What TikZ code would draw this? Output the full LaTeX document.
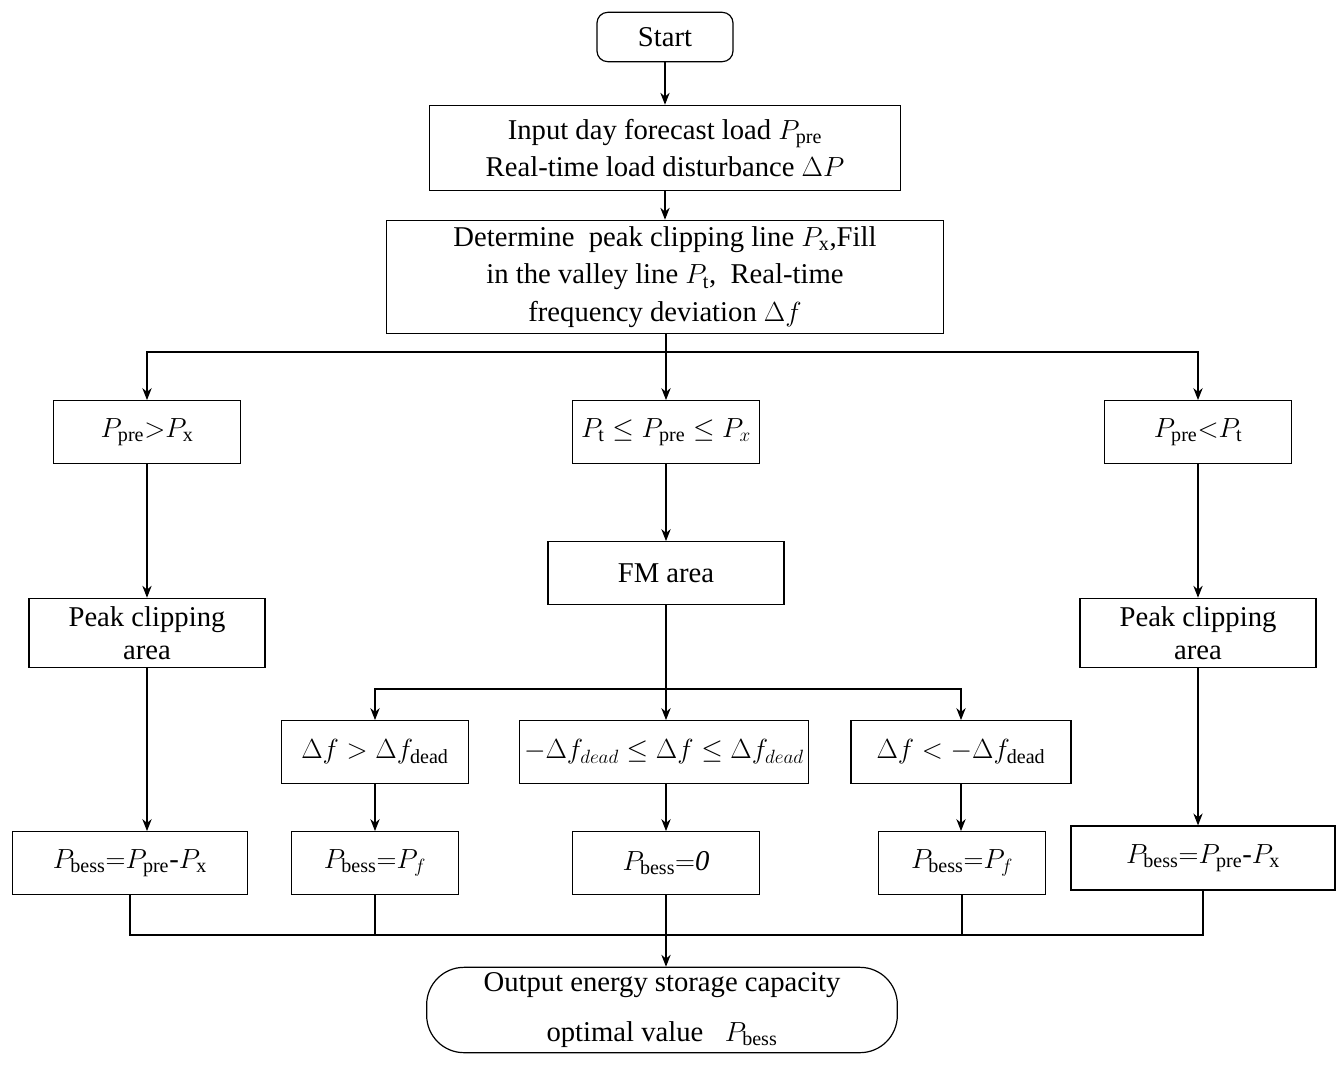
\documentclass[tikz,border=0pt]{standalone}
\usepackage{amsmath,amssymb}
\usepackage{fontspec}
\setmainfont{Liberation Serif}
\usetikzlibrary{arrows.meta}
\begin{document}
\begin{tikzpicture}[x=0.75pt,y=-0.75pt,
  box/.style={draw,line width=0.9pt,minimum width=#1,align=center,inner sep=2pt,font=\fontsize{21.5}{28}\selectfont},
  box/.default=140pt,
  arr/.style={-{Stealth[length=9pt,width=7pt]},line width=0.9pt},
  ln/.style={line width=0.9pt}]
\useasboundingbox (0,0) rectangle (1338,1067);
\node[box=102pt,minimum height=37pt,rounded corners=8pt] (start) at (665,37) {Start};
\node[box=353pt,minimum height=64pt] (input) at (665,148) {Input day forecast load $P_{\mathrm{pre}}$\\Real-time load disturbance $\Delta P$};
\node[box=418pt,minimum height=85pt,font=\fontsize{21.5}{28}\selectfont] (det) at (665,277) {Determine\ \ peak clipping line $P_{\mathrm{x}}$,Fill\\in the valley line $P_{\mathrm{t}}$,\ \ Real-time\\frequency deviation $\Delta f$};
\node[box=140pt,minimum height=47pt] (c1) at (147,432) {$P_{\mathrm{pre}}{>}P_{\mathrm{x}}$};
\node[box=140pt,minimum height=47pt] (c2) at (666,432) {$P_{\mathrm{t}}\leq P_{\mathrm{pre}}\leq P_{x}$};
\node[box=140pt,minimum height=47pt] (c3) at (1198,432) {$P_{\mathrm{pre}}{<}P_{\mathrm{t}}$};
\node[box=177pt,minimum height=52pt,font=\fontsize{21.5}{25}\selectfont] (pl) at (147,633) {Peak clipping\\area};
\node[box=177pt,minimum height=47pt] (fm) at (666,573) {FM area};
\node[box=177pt,minimum height=52pt,font=\fontsize{21.5}{25}\selectfont] (pr) at (1198,633) {Peak clipping\\area};
\node[box=140pt,minimum height=47pt] (d1) at (375,752) {$\Delta f>\Delta f_{\mathrm{dead}}$};
\node[box=217pt,minimum height=47pt] (d2) at (664,752) {$-\Delta f_{dead}\leq\Delta f\leq\Delta f_{dead}$};
\node[box=165pt,minimum height=47pt] (d3) at (961,752) {$\Delta f<-\Delta f_{\mathrm{dead}}$};
\node[box=176pt,minimum height=47pt] (b1) at (130,863) {$P_{\mathrm{bess}}{=}P_{\mathrm{pre}}$-$P_{\mathrm{x}}$};
\node[box=125pt,minimum height=47pt] (b2) at (375,863) {$P_{\mathrm{bess}}{=}P_{f}$};
\node[box=140pt,minimum height=47pt] (b3) at (666,863) {$P_{\mathrm{bess}}{=}\mathit{0}$};
\node[box=125pt,minimum height=47pt] (b4) at (962,863) {$P_{\mathrm{bess}}{=}P_{f}$};
\node[box=198pt,minimum height=48pt] (b5) at (1203,858) {$P_{\mathrm{bess}}{=}P_{\mathrm{pre}}$-$P_{\mathrm{x}}$};
\node[box=353pt,minimum height=64pt,rounded corners=28pt,font=\fontsize{21.5}{37}\selectfont] (out) at (662,1010) {Output energy storage capacity\\optimal value\ \ \ $P_{\mathrm{bess}}$};
\coordinate (j1) at (666,352);
\coordinate (j2) at (666,689);
\coordinate (j3) at (666,935);
\draw[arr] (start) -- (input);
\draw[arr] (input) -- (det);
\draw[ln] (det.south -| j1) -- (j1);
\draw[arr] (j1) -- (c2);
\draw[arr] (j1) -| (c1);
\draw[arr] (j1) -| (c3);
\draw[arr] (c1) -- (pl);
\draw[arr] (c2) -- (fm);
\draw[arr] (c3) -- (pr);
\draw[ln] (fm) -- (j2);
\draw[arr] (j2) -| (d1);
\draw[arr] (j2) -| (d3);
\draw[arr] (j2) -- (d2.north -| j2);
\draw[arr] (pl) -- (b1.north -| pl);
\draw[arr] (pr) -- (b5.north -| pr);
\draw[arr] (d1) -- (b2);
\draw[arr] (d2.south -| j2) -- (b3);
\draw[arr] (d3) -- (b4.north -| d3);
\draw[ln] (b1) |- (j3);
\draw[ln] (b2) |- (j3);
\draw[ln] (b3) -- (j3);
\draw[ln] (b4) |- (j3);
\draw[ln] (b5) |- (j3);
\draw[arr] (j3) -- (out.north -| j3);
\end{tikzpicture}
\end{document}
